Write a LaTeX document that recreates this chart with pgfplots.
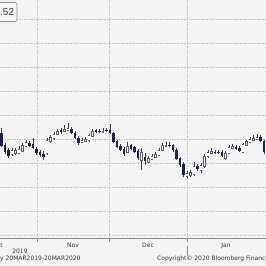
\documentclass[border=0pt]{standalone}
\usepackage{fontspec}
\setmainfont{DejaVu Sans}
\newfontfamily\boxfont{Liberation Sans}
\usepackage{pgfplots}
\usepackage{pgfplotstable}
\pgfplotsset{compat=1.18}
\definecolor{bg}{RGB}{244,244,244}
\definecolor{gridc}{RGB}{195,195,195}
\definecolor{axisc}{RGB}{140,140,140}
\definecolor{navy}{RGB}{22,36,84}
\definecolor{hollowc}{RGB}{95,95,105}
\definecolor{wickc}{RGB}{60,60,75}
\definecolor{textc}{RGB}{55,55,55}
\definecolor{boxc}{RGB}{140,140,140}
\definecolor{boxfill}{RGB}{248,248,248}

% x = day position, o/h/l/c = open/high/low/close (chart units)
\pgfplotstableread{
x o h l c
1.5 -133 -128 -147 -146
5 -145 -143 -154 -152
8.5 -150 -148 -158 -156
12 -154 -148 -156 -150
15.5 -153 -148 -155 -150
19 -153 -146 -154 -149
22.5 -151 -143 -152 -145
26 -146 -140 -147 -142
29.5 -143 -141 -147 -146
33 -144 -138 -149 -148
36.5 -149 -147 -155 -153
40 -152 -150 -157 -155
43.5 -154 -151 -160 -157
47 -153 -138 -155 -140
50.5 -141 -135 -143 -137
54 -138 -132 -140 -134
57.5 -134 -129 -135 -131
61 -130 -128 -134 -132
64.5 -131 -125 -132 -129
68 -130 -123 -131 -128
71.5 -129 -127 -134 -133
75 -133 -131 -139 -138
78.5 -138 -136 -145 -143
82 -142 -138 -143 -140
85.5 -141 -137 -142 -139
89 -140 -134 -142 -135
92.5 -136 -129 -137 -131
96 -130 -129 -133 -132
99.5 -131 -129 -133 -132
103 -132 -128 -133 -131
106.5 -130 -128 -132 -131
110 -130 -124 -134 -133
113.5 -133 -132 -143 -142
117 -141 -140 -148 -147
120.5 -146 -144 -151 -150
124 -149 -147 -156 -154
127.5 -152 -142 -153 -146
131 -145 -144 -150 -149
134.5 -147 -146 -153 -152
138 -151 -149 -160 -158
141.5 -160 -148 -170 -152
145 -157 -153 -165 -161
148.5 -162 -156 -163 -158
152 -159 -154 -160 -156
155.5 -157 -152 -158 -154
159 -155 -148 -156 -150
162.5 -150 -143 -151 -145
166 -146 -142 -147 -145
169.5 -145 -142 -147 -146
173 -145 -144 -152 -150
176.5 -150 -148 -160 -159
180 -158 -157 -167 -165
183.5 -164 -162 -177 -175
187 -176 -171 -178 -173
190.5 -175 -170 -177 -172
194 -174 -162 -176 -166
197.5 -166 -164 -171 -169
201 -170 -163 -173 -165
204.5 -166 -154 -168 -156
208 -156 -150 -158 -152
211.5 -153 -148 -154 -151
215 -152 -150 -154 -153
218.5 -152 -150 -154 -153
222 -152 -150 -157 -156
225.5 -158 -151 -160 -153
229 -153 -145 -154 -147
232.5 -148 -144 -149 -146
236 -147 -145 -150 -149
239.5 -148 -146 -152 -151
243 -152 -143 -153 -144
246.5 -145 -140 -146 -141
250 -142 -137 -143 -139
253.5 -140 -135 -141 -138
257 -139 -134 -140 -137
260.5 -137 -135 -142 -141
264 -141 -140 -154 -152
}\candles

\begin{document}
\begin{tikzpicture}
\useasboundingbox (0pt,-266pt) rectangle (266pt,0pt);
\fill[bg] (0pt,-266pt) rectangle (266pt,0pt);
\begin{axis}[
  x=1pt, y=1pt,
  anchor=south west, at={(0pt,-238.5pt)},
  xmin=0, xmax=266, ymin=-238.5, ymax=0,
  axis line style={draw=none},
  xtick={37,109,187,266},
  xticklabels={,,,},
  xtick pos=left,
  tick align=outside,
  major tick length=3pt,
  xtick style={draw=axisc, line width=0.5pt},
  ytick={-19,-43,-67,-91,-115,-139,-163,-187,-211,-235},
  yticklabels={,,,,,,,,,},
  ytick style={draw=none},
  xmajorgrids, ymajorgrids,
  major grid style={draw=gridc, line width=0.5pt, dash pattern=on 0.8pt off 0.9pt},
  extra x ticks={1.5,73,148,226},
  extra x tick labels={t,Nov,Dec,Jan},
  extra x tick style={major tick length=0pt, grid=none},
  xticklabel style={font=\fontsize{6}{7}\selectfont, text=textc, yshift=-1.3pt},
  candle/.style={draw=none, fill=none, mark=none, forget plot,
    error bars/y dir=plus, error bars/y explicit, error bars/error mark=none},
]
% wicks
\addplot[candle, error bars/error bar style={draw=wickc, line width=0.55pt}]
  table[x=x, y=l, y error plus expr=\thisrow{h}-\thisrow{l}] {\candles};
% down (filled) bodies
\addplot[candle, error bars/error bar style={draw=navy, line width=2.8pt}]
  table[x=x, y expr={ifthenelse(\thisrow{c}<\thisrow{o},\thisrow{c},nan)},
        y error plus expr={max(\thisrow{o}-\thisrow{c},0.9)}] {\candles};
% up (hollow) bodies: outline
\addplot[candle, error bars/error bar style={draw=hollowc, line width=2.9pt}]
  table[x=x, y expr={ifthenelse(\thisrow{c}<\thisrow{o},nan,\thisrow{o}-0.5)},
        y error plus expr={\thisrow{c}-\thisrow{o}+1.0}] {\candles};
% up (hollow) bodies: inside
\addplot[candle, error bars/error bar style={draw=white, line width=1.9pt}]
  table[x=x, y expr={ifthenelse(\thisrow{c}<\thisrow{o},nan,\thisrow{o}+0.5)},
        y error plus expr={max(\thisrow{c}-\thisrow{o}-1.0,0)}] {\candles};
\end{axis}
\draw[axisc, line width=0.6pt] (0pt,-238.5pt) -- (266pt,-238.5pt);
\draw[axisc, line width=0.5pt] (187pt,-246pt) -- (187pt,-256pt);
\node[font=\fontsize{6}{7}\selectfont, text=textc] at (20pt,-251pt) {2019};
\node[font=\fontsize{6}{7}\selectfont, text=textc, anchor=west, inner xsep=0pt] at (0pt,-259pt) {y 20MAR2019-20MAR2020};
\node[font=\fontsize{6}{7}\selectfont, text=textc, anchor=west, inner xsep=0pt] at (157pt,-259pt) {Copyright© 2020 Bloomberg Financ};
\filldraw[draw=boxc, fill=boxfill, line width=0.6pt, rounded corners=2pt]
  (0pt,-2.5pt) -- (17pt,-2.5pt) -- (17pt,-21.5pt) -- (0pt,-21.5pt);
\node[font=\boxfont\fontsize{10}{11}\selectfont, text=textc, anchor=west, inner xsep=0pt] at (0pt,-12pt) {.52};
\end{tikzpicture}
\end{document}
